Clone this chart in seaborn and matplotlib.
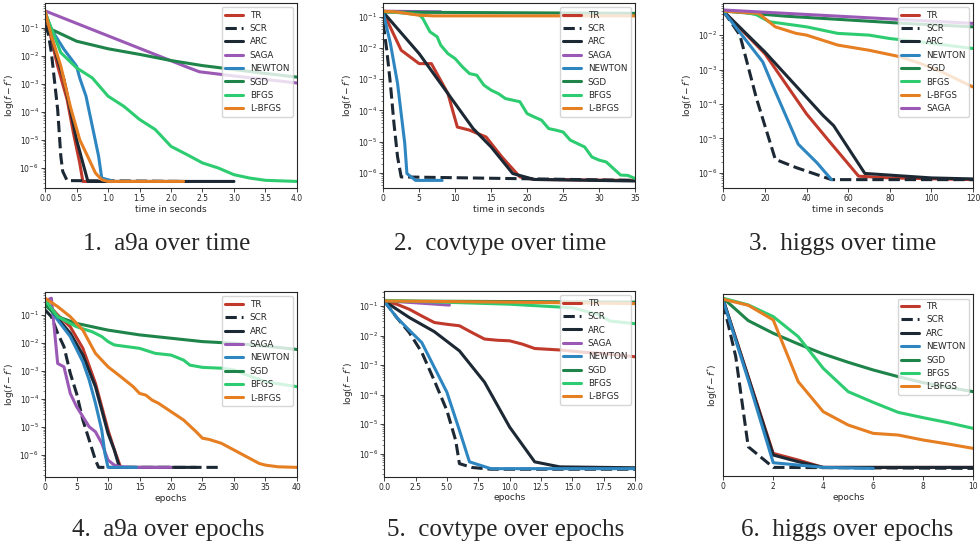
import numpy as np
import pandas as pd
import matplotlib
matplotlib.use("Agg")
import matplotlib.pyplot as plt
import seaborn as sns

# Colours of the methods
colors = {
    'TR': '#c0392b', 'SCR': '#1c2833', 'ARC': '#1c2833', 'SAGA': '#9b59b6',
    'NEWTON': '#2e86c1', 'SGD': '#1e8449', 'BFGS': '#2ecc71', 'L-BFGS': '#e67e22',
}

# All curves: x values and log10(f - f*)
# ---- 1. a9a over time
a9a_t_TR_x = [0, 0.2, 0.35, 0.45, 0.55, 0.6, 1.0]
a9a_t_TR_y = [-0.45, -2.37, -3.56, -4.75, -5.82, -6.48, -6.48]
a9a_t_SCR_x = [0, 0.05, 0.1, 0.15, 0.2, 0.25, 0.28, 0.35, 2.2]
a9a_t_SCR_y = [-0.9, -1.2, -1.89, -2.9, -3.92, -5.58, -6.12, -6.45, -6.48]
a9a_t_ARC_x = [0, 0.2, 0.3, 0.4, 0.5, 0.6, 0.68, 3.0]
a9a_t_ARC_y = [-0.45, -2.13, -2.85, -3.92, -4.99, -5.82, -6.48, -6.48]
a9a_t_SAGA_x = [0, 2.25, 2.45, 3.0, 4.0]
a9a_t_SAGA_y = [-0.4, -2.4, -2.57, -2.72, -2.97]
a9a_t_NEWTON_x = [0, 0.1, 0.3, 0.5, 0.55, 0.65, 0.75, 0.85, 0.9, 1.1]
a9a_t_NEWTON_y = [-0.45, -1.06, -1.77, -2.37, -2.79, -3.44, -4.51, -5.58, -6.36, -6.48]
a9a_t_SGD_x = [0, 0.1, 0.5, 1.0, 1.5, 2.0, 2.5, 3.0, 3.5, 4.0]
a9a_t_SGD_y = [-0.6, -1.06, -1.48, -1.75, -1.95, -2.17, -2.35, -2.49, -2.63, -2.76]
a9a_t_BFGS_x = [0, 0.25, 0.5, 0.75, 1.0, 1.25, 1.5, 1.75, 2.0, 2.25, 2.5, 2.75, 3.0, 3.25, 3.5, 4.0]
a9a_t_BFGS_y = [-0.45, -1.89, -2.43, -2.79, -3.44, -3.80, -4.27, -4.63, -5.23, -5.52, -5.82,
                -6.0, -6.24, -6.36, -6.44, -6.48]
a9a_t_LBFGS_x = [0, 0.1, 0.25, 0.4, 0.55, 0.7, 0.8, 0.9, 1.0, 2.2]
a9a_t_LBFGS_y = [-0.4, -1.30, -2.37, -3.80, -4.99, -5.70, -6.18, -6.42, -6.48, -6.48]

# ---- 2. covtype over time
cov_t_TR_x = [0, 2.5, 5, 6.7, 9, 10.3, 12, 14.3, 16.5, 19, 21, 35]
cov_t_TR_y = [-0.85, -2.07, -2.5, -2.5, -3.46, -4.53, -4.63, -4.85, -5.49, -6.13, -6.21, -6.24]
cov_t_SCR_x = [0, 0.5, 1, 1.5, 2, 2.5, 3, 35]
cov_t_SCR_y = [-1.2, -2.07, -3.14, -4.42, -5.49, -6.13, -6.13, -6.24]
cov_t_ARC_x = [0, 5, 10, 12.5, 15, 18, 21, 35]
cov_t_ARC_y = [-0.85, -2.18, -3.78, -4.58, -5.17, -6.02, -6.21, -6.26]
cov_t_SAGA_x = [0, 8]
cov_t_SAGA_y = [-0.82, -0.84]
cov_t_NEWTON_x = [0, 1, 2, 3, 3.3, 4.5, 8.2]
cov_t_NEWTON_y = [-0.85, -1.85, -3.14, -5.06, -6.02, -6.24, -6.24]
cov_t_SGD_x = [0, 35]
cov_t_SGD_y = [-0.85, -0.89]
cov_t_BFGS_x = [0, 5, 5.5, 6.5, 7.5, 8, 9, 10, 11, 12, 13, 14, 15, 16, 17, 19, 20, 21, 22, 23,
                24, 25, 26, 27, 28, 29, 30, 31, 32, 33, 34, 35]
cov_t_BFGS_y = [-0.82, -0.93, -1.05, -1.48, -1.64, -1.91, -2.18, -2.34, -2.60, -2.82, -2.87,
                -3.19, -3.35, -3.46, -3.62, -3.72, -4.10, -4.21, -4.31, -4.58, -4.63, -4.69,
                -4.95, -5.06, -5.17, -5.49, -5.59, -5.65, -5.86, -6.07, -6.08, -6.18]
cov_t_LBFGS_x = [0, 2, 5, 7, 35]
cov_t_LBFGS_y = [-0.82, -0.85, -0.95, -0.97, -0.97]

# ---- 3. higgs over time
hig_t_TR_x = [0, 20, 40, 50, 65, 80, 120]
hig_t_TR_y = [-1.3, -2.54, -4.29, -5.02, -6.10, -6.15, -6.20]
hig_t_SCR_x = [0, 8, 16, 25, 35, 52, 120]
hig_t_SCR_y = [-1.3, -2.0, -3.85, -5.61, -5.85, -6.20, -6.20]
hig_t_ARC_x = [0, 20, 48, 53, 68, 100, 120]
hig_t_ARC_y = [-1.3, -2.49, -4.34, -4.63, -6.02, -6.15, -6.18]
hig_t_NEWTON_x = [0, 19, 23, 36, 45, 52]
hig_t_NEWTON_y = [-1.3, -2.78, -3.36, -5.17, -5.71, -6.2]
hig_t_SGD_x = [0, 30, 60, 90, 120]
hig_t_SGD_y = [-1.3, -1.45, -1.56, -1.67, -1.76]
hig_t_BFGS_x = [0, 10, 16, 22, 40, 55, 70, 80, 95, 120]
hig_t_BFGS_y = [-1.3, -1.33, -1.41, -1.61, -1.76, -1.95, -2.0, -2.10, -2.2, -2.39]
hig_t_LBFGS_x = [0, 17, 25, 35, 40, 55, 70, 85, 95, 105, 120]
hig_t_LBFGS_y = [-1.3, -1.37, -1.76, -1.95, -2.0, -2.29, -2.44, -2.63, -2.83, -3.07, -3.51]
hig_t_SAGA_x = [0, 120]
hig_t_SAGA_y = [-1.27, -1.66]

# ---- 4. a9a over epochs
a9a_e_TR_x = [0, 2, 4, 6, 8, 10, 11, 12, 12.5]
a9a_e_TR_y = [-0.5, -1.0, -1.42, -2.19, -3.44, -5.11, -5.82, -6.44, -6.44]
a9a_e_SCR_x = [0, 1, 2, 3, 4, 5, 6, 7, 8, 8.5, 28]
a9a_e_SCR_y = [-0.82, -1.06, -1.65, -2.13, -3.08, -3.80, -4.75, -5.46, -6.18, -6.44, -6.44]
a9a_e_ARC_x = [0, 2, 4, 6, 8, 9, 10, 11, 11.8, 24]
a9a_e_ARC_y = [-0.5, -1.12, -1.65, -2.43, -3.56, -4.39, -5.23, -5.82, -6.44, -6.44]
a9a_e_SAGA_x = [0, 1, 2, 3, 4, 5, 6, 7, 8, 9, 10, 11, 12, 14, 20]
a9a_e_SAGA_y = [-0.5, -0.4, -2.73, -2.85, -3.80, -4.27, -4.63, -4.99, -5.17, -5.58, -6.18,
                -6.36, -6.42, -6.44, -6.44]
a9a_e_NEWTON_x = [0, 2, 4, 6, 7, 8, 9, 9.5, 10, 14.5]
a9a_e_NEWTON_y = [-0.5, -1.18, -1.77, -2.67, -3.32, -4.15, -5.11, -5.94, -6.44, -6.44]
a9a_e_SGD_x = [0, 2, 5, 10, 15, 20, 25, 30, 35, 40]
a9a_e_SGD_y = [-0.64, -1.06, -1.30, -1.54, -1.71, -1.83, -1.95, -2.01, -2.11, -2.23]
a9a_e_BFGS_x = [0, 2, 5, 7.5, 9, 10, 11, 15, 17.5, 20, 22, 23, 25, 28, 30, 32, 35, 40]
a9a_e_BFGS_y = [-0.46, -1.06, -1.42, -1.60, -1.77, -1.95, -2.07, -2.19, -2.37, -2.43, -2.61,
                -2.79, -2.87, -2.90, -2.96, -3.14, -3.38, -3.56]
a9a_e_LBFGS_x = [0, 2, 4, 6, 8, 10, 12, 14, 15, 16, 17, 18, 20, 22, 24, 25, 26, 28, 30, 32,
                 34, 35, 37, 40]
a9a_e_LBFGS_y = [-0.40, -0.70, -1.06, -1.54, -2.37, -2.85, -3.20, -3.56, -3.80, -3.86, -4.04,
                 -4.15, -4.45, -4.75, -5.17, -5.40, -5.44, -5.58, -5.82, -6.06, -6.30, -6.36,
                 -6.42, -6.44]

# ---- 5. covtype over epochs
cov_e_TR_x = [0, 1, 2, 3, 4, 5, 6, 7, 8, 9, 10, 11, 12, 14, 16, 18, 20]
cov_e_TR_y = [-0.83, -0.94, -1.11, -1.34, -1.56, -1.62, -1.67, -1.90, -2.12, -2.16, -2.18,
              -2.29, -2.44, -2.49, -2.57, -2.63, -2.72]
cov_e_SCR_x = [0, 1, 2, 3, 4, 5, 5.7, 6, 7, 8.5, 20]
cov_e_SCR_y = [-0.83, -1.39, -1.90, -2.57, -3.53, -4.54, -5.55, -6.34, -6.47, -6.53, -6.53]
cov_e_ARC_x = [0, 2, 4, 6, 8, 10, 12, 14, 20]
cov_e_ARC_y = [-0.83, -1.39, -1.87, -2.52, -3.58, -5.10, -6.28, -6.45, -6.48]
cov_e_SAGA_x = [0, 1, 5.2]
cov_e_SAGA_y = [-0.81, -0.85, -0.97]
cov_e_NEWTON_x = [0, 1, 2, 3, 4, 5, 6, 6.8, 8.5, 20]
cov_e_NEWTON_y = [-0.83, -1.39, -1.82, -2.24, -3.08, -3.92, -5.21, -6.28, -6.51, -6.51]
cov_e_SGD_x = [0, 20]
cov_e_SGD_y = [-0.83, -0.87]
cov_e_BFGS_x = [0, 10, 12.5, 15, 17, 18, 20]
cov_e_BFGS_y = [-0.81, -0.94, -1.0, -1.06, -1.28, -1.51, -1.60]
cov_e_LBFGS_x = [0, 10, 20]
cov_e_LBFGS_y = [-0.83, -0.87, -0.92]

# ---- 6. higgs over epochs (no y ticks in the picture)
hig_e_TR_x = [0, 1, 2, 3, 4, 10]
hig_e_TR_y = [-1.0, -3.3, -5.6, -5.8, -6.02, -6.02]
hig_e_SCR_x = [0, 0.5, 1, 2, 10]
hig_e_SCR_y = [-1.1, -2.7, -5.4, -6.02, -6.05]
hig_e_ARC_x = [0, 1, 2, 3, 4, 10]
hig_e_ARC_y = [-1.0, -3.32, -5.65, -5.85, -6.02, -6.02]
hig_e_NEWTON_x = [0, 1, 2, 3, 4, 6]
hig_e_NEWTON_y = [-1.02, -3.4, -5.88, -5.95, -6.02, -6.05]
hig_e_SGD_x = [0, 1, 2, 3, 4, 5, 6, 7, 8, 9, 10]
hig_e_SGD_y = [-0.95, -1.62, -2.0, -2.32, -2.62, -2.87, -3.1, -3.3, -3.48, -3.62, -3.75]
hig_e_BFGS_x = [0, 1, 2, 3, 4, 5, 6, 7, 8, 9, 10]
hig_e_BFGS_y = [-0.95, -1.15, -1.5, -2.1, -3.05, -3.75, -4.07, -4.37, -4.53, -4.68, -4.85]
hig_e_LBFGS_x = [0, 1, 2, 3, 4, 5, 6, 7, 8, 9, 10]
hig_e_LBFGS_y = [-0.98, -1.16, -1.6, -3.45, -4.35, -4.75, -5.0, -5.05, -5.2, -5.32, -5.45]

panels = [
    {'caption': '1.  a9a over time', 'xlabel': 'time in seconds', 'xlim': (0, 4), 'ylim': (-6.71, -0.11),
     'series': [('TR', a9a_t_TR_x, a9a_t_TR_y), ('SCR', a9a_t_SCR_x, a9a_t_SCR_y),
                ('ARC', a9a_t_ARC_x, a9a_t_ARC_y), ('SAGA', a9a_t_SAGA_x, a9a_t_SAGA_y),
                ('NEWTON', a9a_t_NEWTON_x, a9a_t_NEWTON_y), ('SGD', a9a_t_SGD_x, a9a_t_SGD_y),
                ('BFGS', a9a_t_BFGS_x, a9a_t_BFGS_y), ('L-BFGS', a9a_t_LBFGS_x, a9a_t_LBFGS_y)]},
    {'caption': '2.  covtype over time', 'xlabel': 'time in seconds', 'xlim': (0, 35), 'ylim': (-6.48, -0.55),
     'series': [('TR', cov_t_TR_x, cov_t_TR_y), ('SCR', cov_t_SCR_x, cov_t_SCR_y),
                ('ARC', cov_t_ARC_x, cov_t_ARC_y), ('SAGA', cov_t_SAGA_x, cov_t_SAGA_y),
                ('NEWTON', cov_t_NEWTON_x, cov_t_NEWTON_y), ('SGD', cov_t_SGD_x, cov_t_SGD_y),
                ('BFGS', cov_t_BFGS_x, cov_t_BFGS_y), ('L-BFGS', cov_t_LBFGS_x, cov_t_LBFGS_y)]},
    {'caption': '3.  higgs over time', 'xlabel': 'time in seconds', 'xlim': (0, 120), 'ylim': (-6.44, -1.06),
     'series': [('TR', hig_t_TR_x, hig_t_TR_y), ('SCR', hig_t_SCR_x, hig_t_SCR_y),
                ('ARC', hig_t_ARC_x, hig_t_ARC_y), ('NEWTON', hig_t_NEWTON_x, hig_t_NEWTON_y),
                ('SGD', hig_t_SGD_x, hig_t_SGD_y), ('BFGS', hig_t_BFGS_x, hig_t_BFGS_y),
                ('L-BFGS', hig_t_LBFGS_x, hig_t_LBFGS_y), ('SAGA', hig_t_SAGA_x, hig_t_SAGA_y)]},
    {'caption': '4.  a9a over epochs', 'xlabel': 'epochs', 'xlim': (0, 40), 'ylim': (-6.79, -0.18),
     'series': [('TR', a9a_e_TR_x, a9a_e_TR_y), ('SCR', a9a_e_SCR_x, a9a_e_SCR_y),
                ('ARC', a9a_e_ARC_x, a9a_e_ARC_y), ('SAGA', a9a_e_SAGA_x, a9a_e_SAGA_y),
                ('NEWTON', a9a_e_NEWTON_x, a9a_e_NEWTON_y), ('SGD', a9a_e_SGD_x, a9a_e_SGD_y),
                ('BFGS', a9a_e_BFGS_x, a9a_e_BFGS_y), ('L-BFGS', a9a_e_LBFGS_x, a9a_e_LBFGS_y)]},
    {'caption': '5.  covtype over epochs', 'xlabel': 'epochs', 'xlim': (0, 20), 'ylim': (-6.78, -0.49),
     'series': [('TR', cov_e_TR_x, cov_e_TR_y), ('SCR', cov_e_SCR_x, cov_e_SCR_y),
                ('ARC', cov_e_ARC_x, cov_e_ARC_y), ('SAGA', cov_e_SAGA_x, cov_e_SAGA_y),
                ('NEWTON', cov_e_NEWTON_x, cov_e_NEWTON_y), ('SGD', cov_e_SGD_x, cov_e_SGD_y),
                ('BFGS', cov_e_BFGS_x, cov_e_BFGS_y), ('L-BFGS', cov_e_LBFGS_x, cov_e_LBFGS_y)]},
    {'caption': '6.  higgs over epochs', 'xlabel': 'epochs', 'xlim': (0, 10), 'ylim': (-6.28, -0.83),
     'series': [('TR', hig_e_TR_x, hig_e_TR_y), ('SCR', hig_e_SCR_x, hig_e_SCR_y),
                ('ARC', hig_e_ARC_x, hig_e_ARC_y), ('NEWTON', hig_e_NEWTON_x, hig_e_NEWTON_y),
                ('SGD', hig_e_SGD_x, hig_e_SGD_y), ('BFGS', hig_e_BFGS_x, hig_e_BFGS_y),
                ('L-BFGS', hig_e_LBFGS_x, hig_e_LBFGS_y)]},
]

sns.set_theme(style='ticks')
plt.rcParams['font.family'] = ['DejaVu Sans']

fig = plt.figure(figsize=(9.8, 5.51), dpi=100)

# axes boxes in figure fractions: (left, bottom, width, height)
boxes = [
    (0.046, 0.659, 0.257, 0.336), (0.391, 0.659, 0.257, 0.336), (0.738, 0.659, 0.255, 0.336),
    (0.046, 0.134, 0.257, 0.336), (0.392, 0.135, 0.256, 0.337), (0.738, 0.136, 0.255, 0.330),
]
caption_x = [0.170, 0.510, 0.860, 0.172, 0.516, 0.864]
caption_y = [0.558, 0.558, 0.558, 0.038, 0.038, 0.038]

for i, p in enumerate(panels):
    ax = fig.add_axes(boxes[i])
    for name, xs, ys in p['series']:
        df = pd.DataFrame({'x': xs, 'y': 10.0 ** np.array(ys)})
        sns.lineplot(data=df, x='x', y='y', ax=ax, color=colors[name], lw=2.2,
                     linestyle='--' if name == 'SCR' else '-', label=name,
                     sort=False, estimator=None)
    ax.set_yscale('log')
    ax.set_xlim(*p['xlim'])
    ax.set_ylim(10.0 ** p['ylim'][0], 10.0 ** p['ylim'][1])
    ax.set_xlabel(p['xlabel'], fontsize=6.5, labelpad=1)
    ax.set_ylabel(r'$\log(f - f^{*})$', fontsize=6.5, labelpad=2)
    ax.tick_params(axis='both', which='major', labelsize=5.5, length=3, width=0.6, pad=1.5)
    ax.tick_params(axis='both', which='minor', length=1.5, width=0.4)
    for s in ax.spines.values():
        s.set_linewidth(0.8)
    if i == 5:
        ax.set_yticks([])
        ax.set_yticks([], minor=True)
    ax.legend(loc='upper right', fontsize=6.3, frameon=True, framealpha=0.8,
              borderpad=0.4, handlelength=2.0, labelspacing=0.5, borderaxespad=0.5)
    fig.text(caption_x[i], caption_y[i], p['caption'], ha='center', va='center',
             fontsize=18, family=['Liberation Serif', 'DejaVu Serif'])

fig.savefig('out.png', dpi=100)
